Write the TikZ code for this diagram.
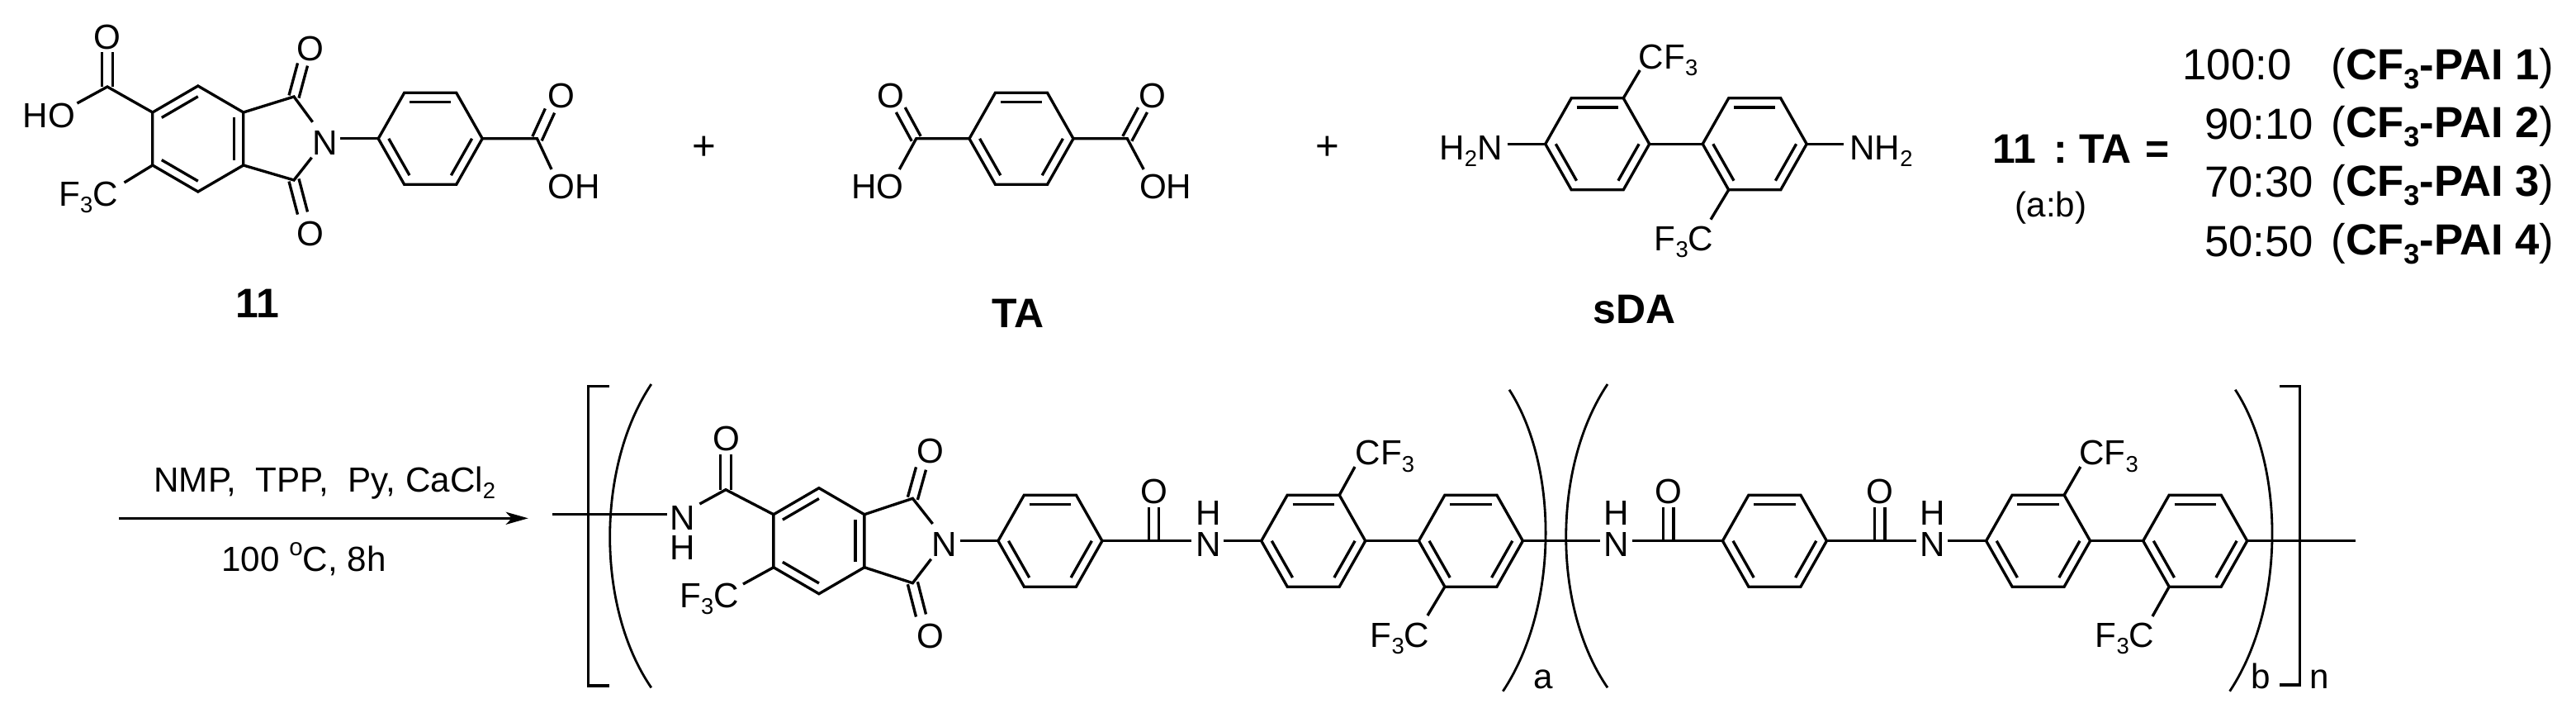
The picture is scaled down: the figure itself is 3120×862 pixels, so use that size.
\documentclass[tikz,border=0pt]{standalone}
\usepackage{fontspec}
\usepackage{graphicx}
\setmainfont{Liberation Sans}
\usetikzlibrary{calc,arrows.meta}
\newcommand{\sbs}[1]{\raisebox{-.2em}{\scalebox{.65}{#1}}}
\tikzset{
  bond/.style={line width=.95pt,line join=miter},
  thinline/.style={line width=.8pt},
  atom/.style={inner sep=0pt,anchor=base,font=\fontsize{12}{14}\selectfont},
  cmpd/.style={inner sep=0pt,anchor=base,font=\fontsize{14.2}{17}\selectfont\bfseries},
  ratio/.style={inner sep=0pt,anchor=base,font=\fontsize{15}{18}\selectfont},
}
% flat-topped benzene ring
\newcommand{\flatring}[3]{%
  \coordinate (#1c) at (#2,#3);
  \coordinate (#1l) at (#2-63,#3);
  \coordinate (#1ul) at (#2-31.5,#3-55.5);
  \coordinate (#1ur) at (#2+31.5,#3-55.5);
  \coordinate (#1r) at (#2+63,#3);
  \coordinate (#1lr) at (#2+31.5,#3+55.5);
  \coordinate (#1ll) at (#2-31.5,#3+55.5);
  \draw[bond] (#1l)--(#1ul)--(#1ur)--(#1r)--(#1lr)--(#1ll)--cycle;
  \draw[bond] ($(#1ul)!.2!(#1c)$)--($(#1ur)!.2!(#1c)$);
  \draw[bond] ($(#1l)!.2!(#1c)$)--($(#1ll)!.2!(#1c)$);
  \draw[bond] ($(#1r)!.2!(#1c)$)--($(#1lr)!.2!(#1c)$);
}
% point-topped benzene ring
\newcommand{\pointring}[3]{%
  \coordinate (#1c) at (#2,#3);
  \coordinate (#1t) at (#2,#3-64);
  \coordinate (#1ur) at (#2+55,#3-32);
  \coordinate (#1lr) at (#2+55,#3+32);
  \coordinate (#1b) at (#2,#3+64);
  \coordinate (#1ll) at (#2-55,#3+32);
  \coordinate (#1ul) at (#2-55,#3-32);
  \draw[bond] (#1t)--(#1ur)--(#1lr)--(#1b)--(#1ll)--(#1ul)--cycle;
  \draw[bond] ($(#1ul)!.2!(#1c)$)--($(#1t)!.2!(#1c)$);
  \draw[bond] ($(#1ur)!.2!(#1c)$)--($(#1lr)!.2!(#1c)$);
  \draw[bond] ($(#1ll)!.2!(#1c)$)--($(#1b)!.2!(#1c)$);
}
% double bond between two named points
\newcommand{\dbl}[2]{%
  \draw[bond] ($(#1)!.62mm!90:(#2)$)--($(#2)!.62mm!-90:(#1)$);
  \draw[bond] ($(#1)!.62mm!-90:(#2)$)--($(#2)!.62mm!90:(#1)$);
}
\begin{document}
\begin{tikzpicture}[x=0.1mm,y=-0.1mm]
\useasboundingbox (0,0) rectangle (3120,862);
\fill[white] (0,0) rectangle (3120,862);

%%%%% compound 11
\pointring{A}{239.8}{168}
\flatring{B}{521.2}{167.8}
\coordinate (Ac1) at (130,105);
\coordinate (Ao1) at (130,63);
\coordinate (Aho) at (93.4,125);
\coordinate (Cf) at (150.5,221);
\coordinate (Ci1) at (356,117);
\coordinate (Ci2) at (356,218);
\coordinate (Oi1) at (366.5,78);
\coordinate (Oi2) at (366.5,258);
\coordinate (Ni1) at (378.6,147.7);
\coordinate (Ni2) at (377.5,190.7);
\coordinate (Nr) at (412,167.8);
\coordinate (Bc1) at (650.5,167.8);
\coordinate (Bo1) at (666,134);
\coordinate (Bo2) at (668,205);
\draw[bond] (Aul)--(Ac1)--(Aho);
\dbl{Ac1}{Ao1}
\draw[bond] (All)--(Cf);
\draw[bond] (Aur)--(Ci1)--(Ni1);
\draw[bond] (Alr)--(Ci2)--(Ni2);
\dbl{Ci1}{Oi1}
\dbl{Ci2}{Oi2}
\draw[bond] (Nr)--(Bl);
\draw[bond] (Br)--(Bc1)--(Bo2);
\dbl{Bc1}{Bo1}
\node[atom] (a1) at (130,59) {O};
\node[atom] (a2) at (59.5,154) {HO};
\node[atom] (a3) at (376,73) {O};
\node[atom] (a4) at (376,297.5) {O};
\node[atom] (a5) at (394,187) {N};
\node[atom] (a6) at (680,130.5) {O};
\node[atom] (a7) at (695,240.5) {OH};
\node[atom] (a8) at (107,249) {F\sbs{3}C};
\node[cmpd] (l11) at (312,384) {11};
\node[inner sep=0pt,font=\fontsize{14}{16}\selectfont] (p1) at (852.6,179) {+};

%%%%% TA
\flatring{T}{1237}{167.8}
\coordinate (Tc1) at (1109.7,167.8);
\coordinate (Tc2) at (1365.3,167.8);
\coordinate (To1) at (1090.8,133);
\coordinate (To2) at (1384,133);
\coordinate (Th1) at (1089.3,205);
\coordinate (Th2) at (1385.2,205);
\draw[bond] (Tl)--(Tc1)--(Th1);
\draw[bond] (Tr)--(Tc2)--(Th2);
\dbl{Tc1}{To1}
\dbl{Tc2}{To2}
\node[atom] (t1) at (1078.5,130.5) {O};
\node[atom] (t2) at (1063,240.5) {HO};
\node[atom] (t3) at (1396,130.5) {O};
\node[atom] (t4) at (1411.7,240.5) {OH};
\node[cmpd] (lTA) at (1233,396) {TA};
\node[inner sep=0pt,font=\fontsize{14}{16}\selectfont] (p2) at (1607.6,179) {+};

%%%%% sDA
\flatring{C}{1934.7}{174.3}
\flatring{D}{2125.2}{174.3}
\coordinate (Sa) at (1825.5,174.3);
\coordinate (Sb) at (2232.7,174.3);
\coordinate (Sc) at (1986.2,85);
\coordinate (Sd) at (2072,265.7);
\draw[bond] (Sa)--(Cl);
\draw[bond] (Cr)--(Dl);
\draw[bond] (Dr)--(Sb);
\draw[bond] (Cur)--(Sc);
\draw[bond] (Dll)--(Sd);
\node[atom] (s1) at (1781.6,193) {H\sbs{2}N};
\node[atom] (s2) at (2278.4,193) {NH\sbs{2}};
\node[atom] (s3) at (2020.7,83) {CF\sbs{3}};
\node[atom] (s4) at (2039.5,303) {F\sbs{3}C};
\node[cmpd] (lsDA) at (1979.6,391) {sDA};

%%%%% ratio
\node[cmpd] (r0a) at (2440,197) {11};
\node[cmpd] (r0b) at (2495.5,197) {:};
\node[cmpd] (r0c) at (2549.7,197) {TA};
\node[cmpd] (r0d) at (2613,197) {=};
\node[atom] (r1) at (2484,262) {(a:b)};
\node[ratio] (n1) at (2709.5,96.7) {100:0};
\node[ratio] (n2) at (2736,168.3) {90:10};
\node[ratio] (n3) at (2736,238.3) {70:30};
\node[ratio] (n4) at (2736,310) {50:50};
\node[ratio] (q1) at (2958.5,96.7) {(\textbf{CF\sbs{3}-PAI 1})};
\node[ratio] (q2) at (2958.5,166.7) {(\textbf{CF\sbs{3}-PAI 2})};
\node[ratio] (q3) at (2958.5,237.5) {(\textbf{CF\sbs{3}-PAI 3})};
\node[ratio] (q4) at (2958.5,308.5) {(\textbf{CF\sbs{3}-PAI 4})};

%%%%% reaction arrow
\coordinate (arrS) at (144.4,627.3);
\coordinate (arrE) at (639.8,627.3);
\draw[bond,-{Stealth[length=2.7mm,width=1.5mm,inset=.7mm]}] (arrS)--(arrE);
\node[atom] (c1) at (393.3,595) {NMP,\ \ TPP,\ \ Py, CaCl\sbs{2}};
\node[atom] (c2) at (368,691.7) {100 \raisebox{.45em}{\scalebox{.7}{o}}C, 8h};

%%%%% polymer brackets and parentheses
\coordinate (b1a) at (737.8,467.3);
\coordinate (b1b) at (712.8,467.3);
\coordinate (b1c) at (712.8,830);
\coordinate (b1d) at (737.8,830);
\draw[bond] (b1a)--(b1b)--(b1c)--(b1d);
\coordinate (b2a) at (2761,467.3);
\coordinate (b2b) at (2785.7,467.3);
\coordinate (b2c) at (2785.7,829);
\coordinate (b2d) at (2761,829);
\draw[bond] (b2a)--(b2b)--(b2c)--(b2d);
\coordinate (pa1) at (788.8,465);
\coordinate (pa2) at (788.8,832.3);
\draw[thinline] (pa1) .. controls (722,565) and (722,735) .. (pa2);
\coordinate (pb1) at (1828,471.7);
\coordinate (pb2) at (1820.3,836.7);
\draw[thinline] (pb1) .. controls (1888,565) and (1888,735) .. (pb2);
\coordinate (pc1) at (1947,465);
\coordinate (pc2) at (1947,832.3);
\draw[thinline] (pc1) .. controls (1880,565) and (1880,735) .. (pc2);
\coordinate (pd1) at (2707.3,471.7);
\coordinate (pd2) at (2700.6,836.7);
\draw[thinline] (pd1) .. controls (2768,565) and (2768,735) .. (pd2);
\node[atom] (sa) at (1869,833) {a};
\node[atom] (sb) at (2738,833) {b};
\node[atom] (sn) at (2809,833) {n};

%%%%% polymer first unit
\coordinate (m0) at (668.9,622.7);
\coordinate (m1) at (807.7,622.7);
\draw[bond] (m0)--(m1);
\node[atom] (pn1) at (826.4,641.7) {N};
\node[atom] (ph1) at (826.4,677.3) {H};
\coordinate (m2) at (847.4,610);
\coordinate (m3) at (879,592.7);
\coordinate (m4) at (879,550);
\pointring{E}{991.9}{654.7}
\draw[bond] (m2)--(m3)--(Eul);
\dbl{m3}{m4}
\node[atom] (po1) at (880,545) {O};
\coordinate (m5) at (900,707);
\draw[bond] (Ell)--(m5);
\node[atom] (pf1) at (859,735) {F\sbs{3}C};
\coordinate (m6) at (1105.4,603.3);
\coordinate (m7) at (1105.4,705.7);
\coordinate (m8) at (1115.5,567);
\coordinate (m9) at (1115.5,745);
\coordinate (m10) at (1129.6,634);
\coordinate (m11) at (1127.7,676.7);
\draw[bond] (Eur)--(m6)--(m10);
\draw[bond] (Elr)--(m7)--(m11);
\dbl{m6}{m8}
\dbl{m7}{m9}
\node[atom] (po2) at (1126.6,560) {O};
\node[atom] (po3) at (1126.6,784) {O};
\node[atom] (pn2) at (1143.6,673) {N};
\flatring{F}{1271.9}{654.7}
\coordinate (m12) at (1163.4,654.7);
\draw[bond] (m12)--(Fl);
\coordinate (m13) at (1397.4,654.7);
\coordinate (m14) at (1397.4,614);
\coordinate (m15) at (1443.4,654.7);
\draw[bond] (Fr)--(m13)--(m15);
\dbl{m13}{m14}
\node[atom] (po4) at (1398,609) {O};
\node[atom] (pn3) at (1463.8,673) {N};
\node[atom] (ph3) at (1463.8,635) {H};
\flatring{G}{1590.7}{654.7}
\flatring{H}{1781.4}{654.7}
\coordinate (m16) at (1481.6,654.7);
\draw[bond] (m16)--(Gl);
\draw[bond] (Gr)--(Hl);
\coordinate (m17) at (1641,565);
\coordinate (m18) at (1729,745);
\draw[bond] (Gur)--(m17);
\draw[bond] (Hll)--(m18);
\node[atom] (pf2) at (1677.4,562.7) {CF\sbs{3}};
\node[atom] (pf3) at (1695.5,783) {F\sbs{3}C};

%%%%% polymer second unit
\coordinate (m19) at (1938.4,654.7);
\draw[bond] (Hr)--(m19);
\node[atom] (pn4) at (1958.2,673) {N};
\node[atom] (ph4) at (1958.2,635) {H};
\flatring{I}{2149.4}{654.7}
\coordinate (m20) at (1977,654.7);
\coordinate (m21) at (2020.8,654.7);
\coordinate (m22) at (2020.8,614);
\draw[bond] (m20)--(Il);
\dbl{m21}{m22}
\node[atom] (po5) at (2020.8,609) {O};
\coordinate (m23) at (2276.7,654.7);
\coordinate (m24) at (2276.7,614);
\coordinate (m25) at (2320.9,654.7);
\draw[bond] (Ir)--(m25);
\dbl{m23}{m24}
\node[atom] (po6) at (2276.7,609) {O};
\node[atom] (pn5) at (2340.7,673) {N};
\node[atom] (ph5) at (2340.7,635) {H};
\flatring{J}{2468.6}{654.7}
\flatring{K}{2658.7}{654.7}
\coordinate (m26) at (2359,654.7);
\draw[bond] (m26)--(Jl);
\draw[bond] (Jr)--(Kl);
\coordinate (m27) at (2519.8,565);
\coordinate (m28) at (2607,746);
\draw[bond] (Jur)--(m27);
\draw[bond] (Kll)--(m28);
\node[atom] (pf4) at (2554,562.7) {CF\sbs{3}};
\node[atom] (pf5) at (2573.5,783) {F\sbs{3}C};
\coordinate (m29) at (2853.4,654.7);
\draw[bond] (Kr)--(m29);
\end{tikzpicture}
\end{document}
